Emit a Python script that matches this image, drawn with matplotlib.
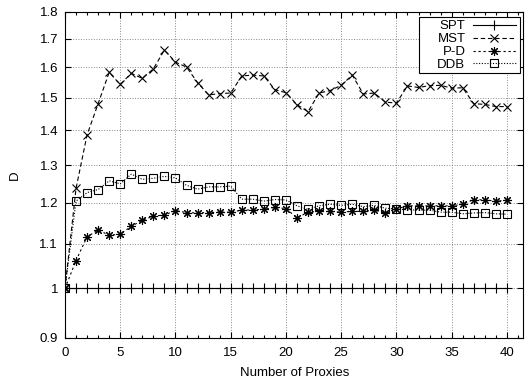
import matplotlib
matplotlib.use("Agg")
import matplotlib.pyplot as plt
from matplotlib.patches import Rectangle
from matplotlib.ticker import FixedLocator, MultipleLocator, NullLocator

# Fuente tipo Helvetica
plt.rcParams["font.family"] = "Liberation Sans"
plt.rcParams["font.size"] = 9.5

# Numero de proxies
proxies = list(range(0, 41))

# Valores de D por algoritmo
spt = [1.0] * 41
mst = [1.0, 1.237, 1.386, 1.481, 1.583, 1.543, 1.580, 1.563, 1.595, 1.660,
       1.618, 1.601, 1.549, 1.509, 1.513, 1.515, 1.571, 1.574, 1.571, 1.526,
       1.516, 1.478, 1.456, 1.515, 1.523, 1.540, 1.574, 1.512, 1.515, 1.486,
       1.483, 1.538, 1.533, 1.539, 1.540, 1.531, 1.532, 1.481, 1.479, 1.472,
       1.472]
pd_ = [1.0, 1.061, 1.116, 1.132, 1.120, 1.122, 1.141, 1.156, 1.166, 1.169,
       1.180, 1.175, 1.174, 1.175, 1.176, 1.176, 1.181, 1.182, 1.183, 1.188,
       1.185, 1.162, 1.176, 1.178, 1.178, 1.176, 1.178, 1.178, 1.181, 1.175,
       1.184, 1.192, 1.192, 1.192, 1.192, 1.192, 1.196, 1.208, 1.207, 1.204,
       1.206]
ddb = [1.0, 1.204, 1.226, 1.234, 1.257, 1.249, 1.275, 1.261, 1.264, 1.269,
       1.265, 1.245, 1.235, 1.241, 1.241, 1.243, 1.209, 1.209, 1.204, 1.208,
       1.207, 1.192, 1.183, 1.192, 1.196, 1.193, 1.196, 1.190, 1.193, 1.186,
       1.184, 1.182, 1.181, 1.181, 1.176, 1.176, 1.172, 1.174, 1.175, 1.172,
       1.171]

y_ticks = [0.9, 1.0, 1.1, 1.2, 1.3, 1.4, 1.5, 1.6, 1.7, 1.8]
y_labels = ["0.9", "1", "1.1", "1.2", "1.3", "1.4", "1.5", "1.6", "1.7", "1.8"]

fig = plt.figure(figsize=(5.27, 3.86), dpi=100)
ax = fig.add_axes([0.1233, 0.1244, 0.870, 0.8446])

lw = 0.8
ax.plot(proxies, spt, color="black", lw=lw, ls="-", marker="+",
        markersize=6.5, markeredgewidth=0.8, label="SPT")
ax.plot(proxies, mst, color="black", lw=lw, dashes=(4, 2.5), marker="x",
        markersize=5.5, markeredgewidth=0.8, label="MST")
ax.plot(proxies, pd_, color="black", lw=lw, dashes=(2, 2.5), marker=(8, 2, 0),
        markersize=6.5, markeredgewidth=0.8, label="P-D")
ax.plot(proxies, ddb, color="black", lw=lw, dashes=(1, 1.5), marker="s",
        markersize=5.5, markerfacecolor="none", markeredgewidth=0.8, label="DDB")

# Eje Y logaritmico
ax.set_yscale("log")
ax.set_ylim(0.9, 1.8)
ax.yaxis.set_major_locator(FixedLocator(y_ticks))
ax.set_yticklabels(y_labels)
ax.yaxis.set_minor_locator(NullLocator())

ax.set_xlim(0, 41.5)
ax.xaxis.set_major_locator(MultipleLocator(5))
ax.xaxis.set_minor_locator(MultipleLocator(1))

ax.tick_params(which="both", direction="in", top=True, right=True,
               width=0.8, labelsize=9.5)
ax.tick_params(which="major", length=4)
ax.tick_params(axis="x", which="major", pad=6.5)
ax.tick_params(axis="y", which="major", pad=5)
ax.tick_params(which="minor", length=2.5)

ax.grid(True, which="major", color="#888888", ls=":", lw=0.7)
for s in ax.spines.values():
    s.set_linewidth(0.8)

ax.set_xlabel("Number of Proxies", labelpad=6)
ax.set_ylabel("D", labelpad=13)

# Leyenda con marco propio, estilo gnuplot
ax.add_patch(Rectangle((0.772, 0.813), 0.220, 0.172, transform=ax.transAxes,
                       facecolor="white", edgecolor="black", lw=0.8, zorder=4))
leg = ax.legend(loc="upper right", markerfirst=False, frameon=False,
                handlelength=3.2, labelspacing=0.05, borderpad=0.25,
                handletextpad=0.6, borderaxespad=0, fontsize=9.5,
                bbox_to_anchor=(0.99, 0.985))
leg.set_zorder(5)

fig.savefig("out.png", dpi=100)
